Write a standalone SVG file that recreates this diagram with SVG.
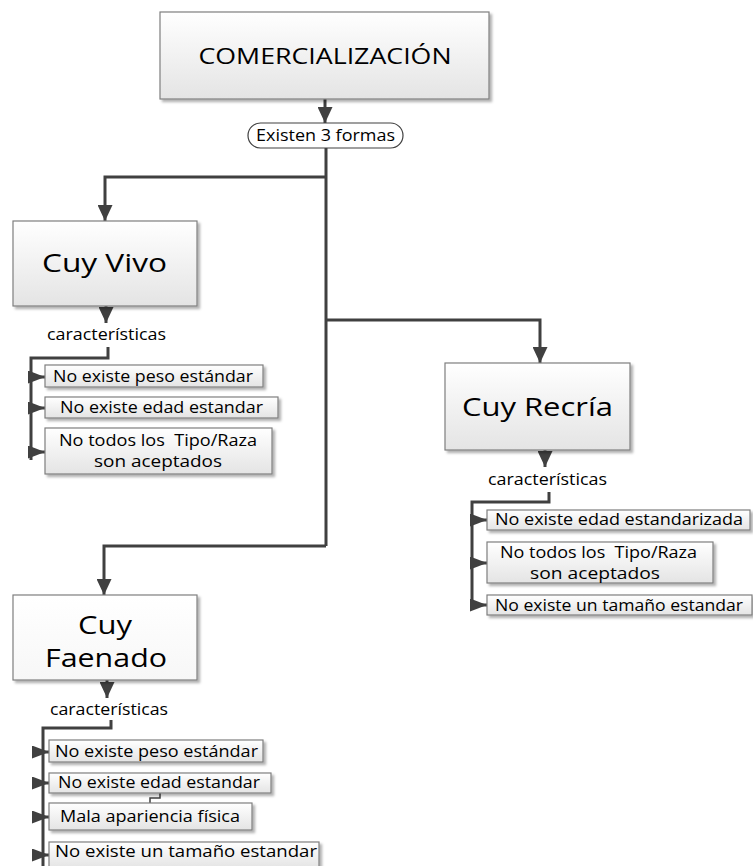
<svg xmlns="http://www.w3.org/2000/svg" width="753" height="866" viewBox="0 0 753 866">
<style>
text{font-family:"Open Sans","DejaVu Sans",sans-serif;fill:#000;text-anchor:middle}
.big{font-size:25px}
.top{font-size:22px}
.lbl{font-size:16px}
.it{font-size:16px}
.box{fill:url(#g);stroke:#7f7f7f;stroke-width:1.2;filter:url(#sh)}
.wbox{fill:url(#gw);stroke:#7f7f7f;stroke-width:1.2;filter:url(#sh)}
.ln{fill:none;stroke:#404040;stroke-width:3}
.thin{fill:none;stroke:#404040;stroke-width:1.5}
</style>
<defs>
<linearGradient id="g" x1="0" y1="0" x2="0" y2="1"><stop offset="0" stop-color="#ffffff"/><stop offset="1" stop-color="#e4e4e4"/></linearGradient>
<linearGradient id="gw" x1="0" y1="0" x2="0" y2="1"><stop offset="0" stop-color="#ffffff"/><stop offset="1" stop-color="#f7f7f7"/></linearGradient>
<filter id="sh" x="-10%" y="-10%" width="130%" height="140%"><feDropShadow dx="2.5" dy="2.5" stdDeviation="1.2" flood-color="#000" flood-opacity="0.3"/></filter>
<marker id="a" markerUnits="userSpaceOnUse" viewBox="0 0 16 15" refX="16" refY="7.5" markerWidth="16" markerHeight="15" orient="auto"><path d="M0,0 L16,7.5 L0,15 z" fill="#404040"/></marker>
<marker id="s" markerUnits="userSpaceOnUse" viewBox="0 0 17 13" refX="17" refY="6.5" markerWidth="17" markerHeight="13" orient="auto"><path d="M0,0 L17,6.5 L0,13 z" fill="#404040"/></marker>
</defs>

<g id="connectors">
<path class="ln" d="M325,99 V123" marker-end="url(#a)"/>
<path class="ln" d="M326,148 V546"/>
<path class="ln" d="M326,177 H105 V221" marker-end="url(#a)"/>
<path class="ln" d="M326,320 H540 V363" marker-end="url(#a)"/>
<path class="ln" d="M326,546 H104 V595" marker-end="url(#a)"/>
<path class="ln" d="M106,306 V323" marker-end="url(#a)"/>
<path class="ln" d="M545,450 V467" marker-end="url(#a)"/>
<path class="ln" d="M107,680 V698" marker-end="url(#a)"/>
<path class="ln" d="M108,347 V358 H31 V460"/>
<path class="ln" d="M31,377 H45" marker-end="url(#s)"/>
<path class="ln" d="M31,408 H45" marker-end="url(#s)"/>
<path class="ln" d="M31,452 H45" marker-end="url(#s)"/>
<path class="ln" d="M549,492 V502 H472 V607"/>
<path class="ln" d="M472,520 H487" marker-end="url(#s)"/>
<path class="ln" d="M472,563 H487" marker-end="url(#s)"/>
<path class="ln" d="M472,605 H487" marker-end="url(#s)"/>
<path class="ln" d="M111,720 V728 H43 V866"/>
<path class="ln" d="M43,752 H49" marker-end="url(#s)"/>
<path class="ln" d="M43,783 H49" marker-end="url(#s)"/>
<path class="ln" d="M43,817 H49" marker-end="url(#s)"/>
<path class="ln" d="M43,855 H49" marker-end="url(#s)"/>
<path class="thin" d="M160,793 V798 H150 V803"/>
</g>

<g id="comercializacion">
<rect class="box" x="160" y="12" width="329" height="87"/>
<text class="top" x="325" y="64" textLength="253" lengthAdjust="spacingAndGlyphs">COMERCIALIZACIÓN</text>
</g>
<g id="existen">
<rect x="248" y="123" width="155" height="25" rx="12.5" fill="#fff" stroke="#404040" stroke-width="1.2"/>
<text class="lbl" x="325.5" y="141" textLength="139" lengthAdjust="spacingAndGlyphs">Existen 3 formas</text>
</g>

<g id="cuy-vivo">
<rect class="box" x="13" y="221" width="184" height="85"/>
<text class="big" x="104.5" y="272" textLength="125" lengthAdjust="spacingAndGlyphs">Cuy Vivo</text>
</g>
<g id="carac-vivo"><text class="lbl" x="106.5" y="340" textLength="119" lengthAdjust="spacingAndGlyphs">características</text></g>
<g id="vivo-1"><rect class="box" x="45" y="365" width="218" height="22"/><text class="it" x="153" y="382" textLength="200" lengthAdjust="spacingAndGlyphs">No existe peso estándar</text></g>
<g id="vivo-2"><rect class="box" x="45" y="397" width="233" height="21"/><text class="it" x="161.5" y="413" textLength="203" lengthAdjust="spacingAndGlyphs">No existe edad estandar</text></g>
<g id="vivo-3"><rect class="box" x="45" y="428" width="227" height="46"/><text class="it" x="158" y="446" textLength="198" lengthAdjust="spacingAndGlyphs" xml:space="preserve">No todos los  Tipo/Raza</text><text class="it" x="158" y="467" textLength="128" lengthAdjust="spacingAndGlyphs">son aceptados</text></g>

<g id="cuy-recria">
<rect class="box" x="445" y="363" width="185" height="87"/>
<text class="big" x="537.5" y="416" textLength="151" lengthAdjust="spacingAndGlyphs">Cuy Recría</text>
</g>
<g id="carac-recria"><text class="lbl" x="547.5" y="485" textLength="119" lengthAdjust="spacingAndGlyphs">características</text></g>
<g id="recria-1"><rect class="box" x="487" y="510" width="263" height="20"/><text class="it" x="619" y="525" textLength="248" lengthAdjust="spacingAndGlyphs">No existe edad estandarizada</text></g>
<g id="recria-2"><rect class="box" x="487" y="542" width="226" height="41"/><text class="it" x="598.5" y="558" textLength="197" lengthAdjust="spacingAndGlyphs" xml:space="preserve">No todos los  Tipo/Raza</text><text class="it" x="595" y="579" textLength="130" lengthAdjust="spacingAndGlyphs">son aceptados</text></g>
<g id="recria-3"><rect class="box" x="487" y="595" width="265" height="20"/><text class="it" x="619" y="611" textLength="248" lengthAdjust="spacingAndGlyphs">No existe un tamaño estandar</text></g>

<g id="cuy-faenado">
<rect class="wbox" x="13" y="595" width="184" height="85"/>
<text class="big" x="105" y="634" textLength="54" lengthAdjust="spacingAndGlyphs">Cuy</text>
<text class="big" x="106" y="667" textLength="122" lengthAdjust="spacingAndGlyphs">Faenado</text>
</g>
<g id="carac-faenado"><text class="lbl" x="109" y="715" textLength="118" lengthAdjust="spacingAndGlyphs">características</text></g>
<g id="faenado-1"><rect class="box" x="49" y="740" width="214" height="22"/><text class="it" x="156.5" y="757" textLength="203" lengthAdjust="spacingAndGlyphs">No existe peso estándar</text></g>
<g id="faenado-2"><rect class="box" x="49" y="773" width="222" height="20"/><text class="it" x="159" y="788" textLength="202" lengthAdjust="spacingAndGlyphs">No existe edad estandar</text></g>
<g id="faenado-3"><rect class="box" x="49" y="803" width="203" height="27"/><text class="it" x="150" y="822" textLength="180" lengthAdjust="spacingAndGlyphs">Mala apariencia física</text></g>
<g id="faenado-4"><rect class="box" x="49" y="842" width="270" height="26"/><text class="it" x="186" y="857" textLength="262" lengthAdjust="spacingAndGlyphs">No existe un tamaño estandar</text></g>
</svg>
